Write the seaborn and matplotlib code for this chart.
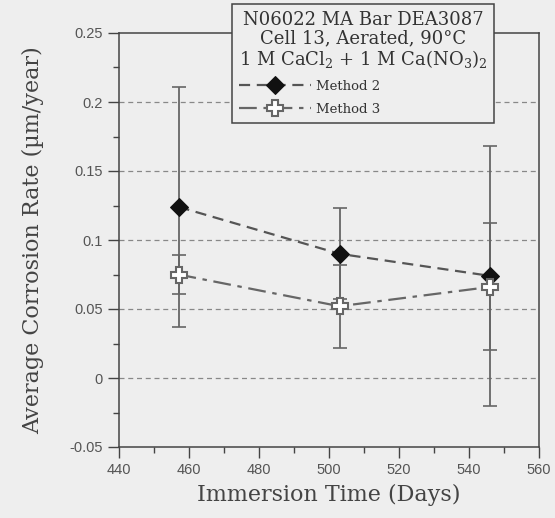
import matplotlib
matplotlib.use("Agg")
import matplotlib.pyplot as plt
from matplotlib.ticker import MultipleLocator
import seaborn as sns
import pandas as pd

# values
days = [457, 503, 546]
method2 = [0.124, 0.090, 0.074]
method2_err = [0.087, 0.033, 0.094]
method3 = [0.075, 0.052, 0.066]
method3_err = [0.014, 0.030, 0.046]

bg = "#eeeeee"
sns.set_style("ticks")
plt.rcParams["mathtext.fontset"] = "dejavuserif"

fig = plt.figure(figsize=(5.55, 5.18), dpi=100, facecolor=bg)
ax = fig.add_axes([119/555, 1-447/518, 420/555, 414/518])
ax.set_facecolor(bg)

df = pd.DataFrame({"day": days + days,
                   "rate": method2 + method3,
                   "method": ["Method 2"]*3 + ["Method 3"]*3})

# error bars first so markers sit on top
ax.errorbar(days, method2, yerr=method2_err, fmt="none", ecolor="#666666",
            elinewidth=1.3, capsize=5, capthick=1.2, zorder=2)
ax.errorbar(days, method3, yerr=method3_err, fmt="none", ecolor="#666666",
            elinewidth=1.3, capsize=5, capthick=1.2, zorder=2)

sns.lineplot(data=df[df.method == "Method 2"], x="day", y="rate", ax=ax,
             color="#555555", lw=1.6, linestyle=(0, (5, 3)), marker="D",
             markersize=9.5, markerfacecolor="#111111", markeredgecolor="#111111",
             label="Method 2", zorder=3)
sns.lineplot(data=df[df.method == "Method 3"], x="day", y="rate", ax=ax,
             color="#666666", lw=1.6, linestyle=(0, (8, 3, 2, 3)), marker="P",
             markersize=11, markerfacecolor="white", markeredgecolor="#666666",
             markeredgewidth=1.5, label="Method 3", zorder=3)

ax.set_xlim(440, 560)
ax.set_ylim(-0.05, 0.25)
ax.xaxis.set_major_locator(MultipleLocator(20))
ax.xaxis.set_minor_locator(MultipleLocator(10))
ax.yaxis.set_minor_locator(MultipleLocator(0.025))
ax.set_yticks([-0.05, 0, 0.05, 0.1, 0.15, 0.2, 0.25])
ax.set_yticklabels(["-0.05", "0", "0.05", "0.1", "0.15", "0.2", "0.25"])

for y in [0, 0.05, 0.1, 0.15, 0.2]:
    ax.axhline(y, color="#888888", lw=0.9, linestyle=(0, (4, 3)), zorder=1)

ax.tick_params(which="major", direction="out", length=8, width=1, colors="#444444",
               labelsize=10.5, labelcolor="#555555")
ax.tick_params(which="minor", direction="out", length=4, width=1, colors="#444444")
for lab in ax.get_xticklabels() + ax.get_yticklabels():
    lab.set_family("Liberation Sans")
for s in ax.spines.values():
    s.set_color("#444444")
    s.set_linewidth(1.1)

ax.set_xlabel("Immersion Time (Days)", family="DejaVu Serif", fontsize=16,
              color="#444444", labelpad=5)
ax.set_ylabel("Average Corrosion Rate (\u00b5m/year)", family="DejaVu Serif",
              fontsize=16, color="#444444", labelpad=18)

title = ("N06022 MA Bar DEA3087\nCell 13, Aerated, 90\u00b0C\n"
         "1 M CaCl$_2$ + 1 M Ca(NO$_3$)$_2$")
leg = ax.legend(title=title, loc="upper left", bbox_to_anchor=(232/555, 1-4/518),
                bbox_transform=fig.transFigure, fancybox=False, framealpha=1,
                facecolor=bg, edgecolor="#444444", borderaxespad=0,
                prop={"family": "DejaVu Serif", "size": 9.5},
                title_fontproperties={"family": "DejaVu Serif", "size": 13},
                handlelength=5.5, handletextpad=0.4, borderpad=0.5,
                labelspacing=0.75, alignment="left")
leg.get_title().set_color("#333333")
leg.get_title().set_multialignment("center")
leg.get_title().set_linespacing(1.05)
leg.get_frame().set_linewidth(1.1)
for t in leg.get_texts():
    t.set_color("#333333")

fig.savefig("out.png", dpi=100, facecolor=bg)
